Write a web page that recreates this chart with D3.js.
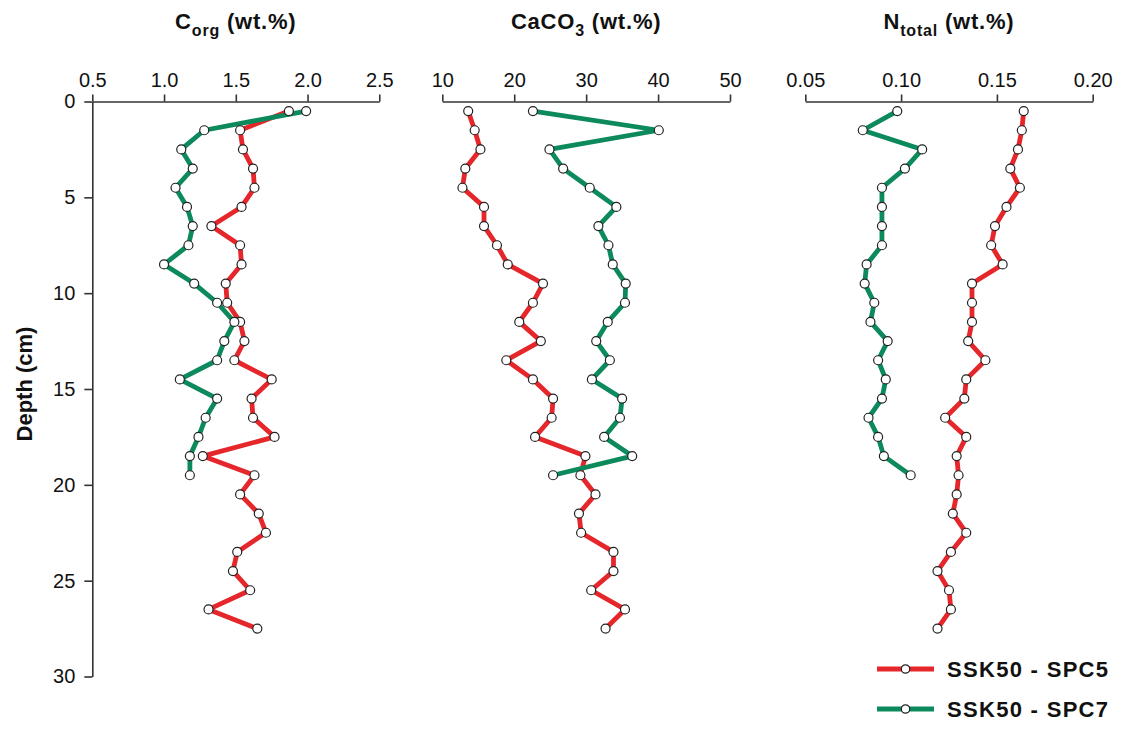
<!DOCTYPE html>
<html>
<head>
<meta charset="utf-8">
<script src="https://cdn.jsdelivr.net/npm/d3@7"></script>
<style>
  html, body { margin: 0; padding: 0; background: #fff; }
  svg { display: block; font-family: "Liberation Sans", Arial, sans-serif; }
</style>
</head>
<body>
<svg id="chart" width="1121" height="731"></svg>
<script>
// Sample depths (cm)
const depthSPC5 = [0.5,1.5,2.5,3.5,4.5,5.5,6.5,7.5,8.5,9.5,10.5,11.5,12.5,13.5,14.5,15.5,16.5,17.5,18.5,19.5,20.5,21.5,22.5,23.5,24.5,25.5,26.5,27.5];
const depthSPC7 = [0.5,1.5,2.5,3.5,4.5,5.5,6.5,7.5,8.5,9.5,10.5,11.5,12.5,13.5,14.5,15.5,16.5,17.5,18.5,19.5];

// Organic carbon (wt.%)
const corgSPC5 = [1.87,1.53,1.55,1.62,1.63,1.54,1.33,1.53,1.54,1.43,1.44,1.53,1.56,1.49,1.75,1.61,1.62,1.77,1.27,1.63,1.53,1.66,1.71,1.51,1.48,1.60,1.31,1.65];
const corgSPC7 = [1.99,1.28,1.12,1.20,1.08,1.16,1.20,1.17,1.00,1.21,1.37,1.49,1.42,1.37,1.11,1.37,1.29,1.24,1.18,1.18];

// Carbonate (wt.%)
const caco3SPC5 = [13.6,14.5,15.3,13.2,12.8,15.8,15.8,17.6,19.1,24.0,22.6,20.7,23.7,18.9,22.6,25.4,25.2,22.9,29.9,29.2,31.3,29.0,29.3,33.8,33.8,30.7,35.4,32.7];
const caco3SPC7 = [22.6,40.1,24.9,26.8,30.5,34.2,31.7,33.1,33.7,35.5,35.4,33.0,31.4,33.3,30.8,35.0,34.7,32.5,36.4,25.4];

// Total nitrogen (wt.%)
const ntotSPC5 = [0.164,0.163,0.161,0.157,0.162,0.155,0.149,0.147,0.153,0.137,0.137,0.137,0.135,0.144,0.134,0.133,0.123,0.134,0.129,0.130,0.129,0.127,0.134,0.126,0.119,0.125,0.126,0.119];
const ntotSPC7 = [0.098,0.080,0.111,0.102,0.090,0.090,0.090,0.090,0.082,0.081,0.086,0.084,0.093,0.088,0.092,0.090,0.083,0.088,0.091,0.105];

// Axis ticks
const corgTicks = [0.5,1.0,1.5,2.0,2.5];
const caco3Ticks = [10,20,30,40,50];
const ntotTicks = [0.05,0.10,0.15,0.20];
const depthTicks = [0,5,10,15,20,25,30];

const seriesNames = ["SSK50 - SPC5", "SSK50 - SPC7"];
const seriesColors = ["#e5262a", "#0c8a5c"];

const svg = d3.select("#chart");
const axisColor = "#333";

const y = d3.scaleLinear().domain([0, 30]).range([101.5, 676.5]);

const panels = [
  { title: ["C", "org", " (wt.%)"], domain: [0.5, 2.5], range: [92.3, 379.3], ticks: corgTicks, fmt: d3.format(".1f"),
    series: [[depthSPC5, corgSPC5], [depthSPC7, corgSPC7]] },
  { title: ["CaCO", "3", " (wt.%)"], domain: [10, 50], range: [442.3, 730], ticks: caco3Ticks, fmt: d3.format("d"),
    series: [[depthSPC5, caco3SPC5], [depthSPC7, caco3SPC7]] },
  { title: ["N", "total", " (wt.%)"], domain: [0.05, 0.20], range: [805.3, 1092.7], ticks: ntotTicks, fmt: d3.format(".2f"),
    series: [[depthSPC5, ntotSPC5], [depthSPC7, ntotSPC7]] }
];

function styleAxis(g) {
  g.attr("font-size", null).attr("font-family", null);
  g.select(".domain").attr("stroke", axisColor).attr("stroke-width", 1.6);
  g.selectAll(".tick line").attr("stroke", axisColor).attr("stroke-width", 1.6);
  g.selectAll(".tick text").attr("fill", "#111")
    .attr("font-size", 20)
    .attr("font-family", "'Liberation Sans', Arial, sans-serif");
}

panels.forEach((p, pi) => {
  const x = d3.scaleLinear().domain(p.domain).range(p.range);
  const g = svg.append("g");

  // top axis
  const ax = g.append("g")
    .attr("transform", `translate(0,${y(0)})`)
    .call(d3.axisTop(x).tickValues(p.ticks).tickFormat(p.fmt).tickSizeInner(7).tickSizeOuter(0).tickPadding(8));
  styleAxis(ax);

  // title with subscript
  const cx = (p.range[0] + p.range[1]) / 2;
  const t = g.append("text")
    .attr("x", cx).attr("y", 29)
    .attr("text-anchor", "middle")
    .attr("font-size", 22).attr("font-weight", "bold").attr("fill", "#111")
    .style("letter-spacing", "0.8px");
  t.append("tspan").text(p.title[0]);
  t.append("tspan").text(p.title[1]).attr("font-size", 16).attr("dy", 7);
  t.append("tspan").text(p.title[2]).attr("dy", -7);

  // profiles: SPC5 first, then SPC7 on top
  const line = d3.line().x(d => x(d[1])).y(d => y(d[0]));
  p.series.forEach((s, si) => {
    const pts = s[0].map((dep, i) => [dep, s[1][i]]);
    g.append("path").datum(pts)
      .attr("d", line)
      .attr("fill", "none")
      .attr("stroke", seriesColors[si])
      .attr("stroke-width", 4.8)
      .attr("stroke-linejoin", "round");
  });
  p.series.forEach((s, si) => {
    const pts = s[0].map((dep, i) => [dep, s[1][i]]);
    g.selectAll(null).data(pts).enter().append("circle")
      .attr("cx", d => x(d[1])).attr("cy", d => y(d[0]))
      .attr("r", 4.5)
      .attr("fill", "#fff")
      .attr("stroke", "#222")
      .attr("stroke-width", 1.2);
  });

  // left depth axis on the first panel
  if (pi === 0) {
    const ay = g.append("g")
      .attr("transform", `translate(${p.range[0]},0)`)
      .call(d3.axisLeft(y).tickValues(depthTicks).tickFormat(d3.format("d")).tickSizeInner(8).tickSizeOuter(0).tickPadding(9));
    styleAxis(ay);
  }
});

// depth label
svg.append("text")
  .attr("transform", "translate(32,384) rotate(-90)")
  .attr("text-anchor", "middle")
  .attr("font-size", 22).attr("font-weight", "bold").attr("fill", "#111")
  .text("Depth (cm)");

// legend
const legend = svg.append("g");
seriesNames.forEach((name, i) => {
  const ly = 669 + i * 40;
  legend.append("line")
    .attr("x1", 877).attr("x2", 934).attr("y1", ly).attr("y2", ly)
    .attr("stroke", seriesColors[i]).attr("stroke-width", 4.8);
  legend.append("circle")
    .attr("cx", 905.5).attr("cy", ly).attr("r", 4.2)
    .attr("fill", "#fff").attr("stroke", "#222").attr("stroke-width", 1.2);
  legend.append("text")
    .attr("x", 947).attr("y", ly + 8)
    .attr("font-size", 22).attr("font-weight", "bold").attr("fill", "#111")
    .style("letter-spacing", "1.3px")
    .text(name);
});
</script>
</body>
</html>
